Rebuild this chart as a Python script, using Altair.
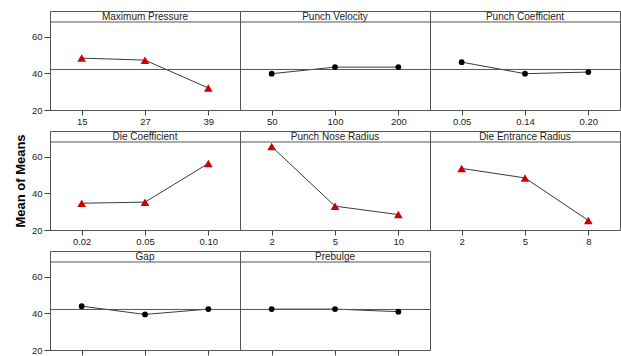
import altair as alt
import pandas as pd

factors = ["Maximum Pressure", "Punch Velocity", "Punch Coefficient",
           "Die Coefficient", "Punch Nose Radius", "Die Entrance Radius",
           "Gap", "Prebulge"]
levels = [["15", "27", "39"], ["50", "100", "200"], ["0.05", "0.14", "0.20"],
          ["0.02", "0.05", "0.10"], ["2", "5", "10"], ["2", "5", "8"],
          ["1", "2", "3"], ["1", "2", "3"]]
means = [[48.3, 47.2, 32.0], [39.8, 43.4, 43.4], [46.1, 39.8, 40.7],
         [34.6, 35.2, 56.3], [65.5, 33.0, 28.4], [53.6, 48.4, 25.2],
         [43.9, 39.4, 42.3], [42.3, 42.3, 40.9]]
significant = [True, False, False, True, True, True, False, False]
show_ref = [True, True, True, False, False, False, True, True]
grand_mean = 42.1
y_ticks = [20, 40, 60]

W, H, S = 190, 99, 11
Y_LO, Y_HI = 20, 68
Y_TOP = Y_HI + S * (Y_HI - Y_LO) / (H - S)  # room for the header strip
FONT = "Liberation Sans"


def panel(i):
    row, col = i // 3, i % 3
    df = pd.DataFrame({"level": levels[i], "mean": means[i]})
    head = pd.DataFrame({"factor": [factors[i]], "mean": [grand_mean]})
    x = alt.X("level:N", sort=levels[i],
              scale=alt.Scale(type="point", padding=0.5),
              axis=alt.Axis(title=None, labels=(row < 2), labelAngle=0,
                            domain=False, tickSize=5, labelPadding=1))
    if col == 0:
        yax = alt.Axis(values=y_ticks, title="Mean of Means", grid=False,
                       domain=False, tickSize=6, labelPadding=2,
                       titleOpacity=1 if row == 1 else 0)
    else:
        yax = None
    y = alt.Y("mean:Q", scale=alt.Scale(domain=[Y_LO, Y_TOP], zero=False,
                                        nice=False), axis=yax)
    base = alt.Chart(df)
    layers = []
    layers.append(base.mark_line(color="#3a3a3a", strokeWidth=1).encode(x=x, y=y))
    if show_ref[i]:
        layers.append(alt.Chart(head).mark_rule(color="#555555", strokeWidth=1).encode(
            x=alt.value(0), x2=alt.value(W), y=y))
    if significant[i]:
        pts = base.mark_point(filled=True, shape="triangle-up", size=75,
                              color="#cc0000", opacity=1)
    else:
        pts = base.mark_point(filled=True, shape="circle", size=34,
                              color="#000000", opacity=1)
    layers.append(pts.encode(x=x, y=y))
    layers.append(alt.Chart(head).mark_rule(color="#555555", strokeWidth=1).encode(
        x=alt.value(0), x2=alt.value(W), y=alt.value(S)))
    layers.append(alt.Chart(head).mark_text(font=FONT, fontSize=10, color="#222222",
                                            baseline="middle").encode(
        x=alt.value(W / 2), y=alt.value(S / 2 + 0.5), text="factor:N"))
    return alt.layer(*layers).properties(width=W, height=H)


chart = alt.concat(*[panel(i) for i in range(8)], columns=3,
                   spacing=alt.RowColnumber(row=21, column=0),
                   bounds="flush").properties(
    padding={"left": 13, "top": 10, "right": 0, "bottom": 0},
    background="white",
).configure_view(stroke="#555555", strokeWidth=1).configure_axis(
    labelFont=FONT, labelFontSize=9.5, labelColor="#222222",
    tickColor="#444444", titleFont="Liberation Sans", titleFontSize=13,
    titleFontWeight="bold", titleColor="#000000", titlePadding=4,
)

chart.save("out.html", embed_options={"renderer": "svg", "actions": False})
